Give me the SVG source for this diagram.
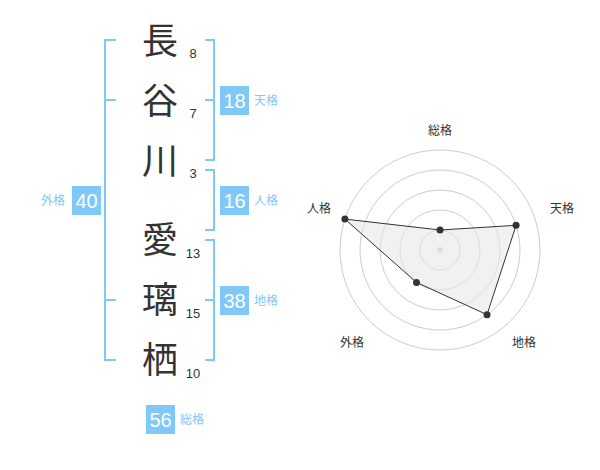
<svg xmlns="http://www.w3.org/2000/svg" width="600" height="470" viewBox="0 0 600 470">
<style>
.k{font-family:"Noto Sans CJK JP","Noto Sans CJK SC",sans-serif;font-size:36px;fill:#333;text-anchor:middle}
.s{font-family:"Liberation Sans","Noto Sans CJK JP",sans-serif;font-size:13px;fill:#333;text-anchor:middle}
.br{fill:none;stroke:#80c8f8;stroke-width:2}
.box{fill:#80c8f8}
.bn{font-family:"Liberation Sans",sans-serif;font-size:20px;fill:#fff;text-anchor:middle}
.lb{font-family:"Noto Sans CJK JP",sans-serif;font-size:12px;fill:#80c8f8}
.ring{fill:none;stroke:#cccccc;stroke-width:1}
.rl{font-family:"Noto Sans CJK JP",sans-serif;font-size:12px;fill:#333;text-anchor:middle}
.dot{fill:#333}
</style>
<rect width="600" height="470" fill="#fff"/>
<g id="chars">
<text class="k" x="160" y="54">長</text>
<text class="k" x="160" y="114">谷</text>
<text class="k" x="160" y="174">川</text>
<text class="k" x="160" y="253">愛</text>
<text class="k" x="160" y="313">璃</text>
<text class="k" x="160" y="373">栖</text>
</g>
<g id="strokes">
<text class="s" x="193" y="58">8</text>
<text class="s" x="193" y="118">7</text>
<text class="s" x="193" y="178">3</text>
<text class="s" x="193" y="258">13</text>
<text class="s" x="193" y="318">15</text>
<text class="s" x="193" y="378">10</text>
</g>
<g id="connectors">
<path class="br" d="M116,40 H105 V360 H116 M105,100 H116 M105,300 H116"/>
<path class="br" d="M205,40 H214 V160 H205 M205,100 H214"/>
<path class="br" d="M205,170 H214 V230 H205"/>
<path class="br" d="M205,240 H214 V360 H205 M205,300 H214"/>
</g>
<g id="gaikaku">
<rect class="box" x="72" y="186" width="29" height="29"/>
<text class="bn" x="86.5" y="208">40</text>
<text class="lb" x="41" y="205">外格</text>
</g>
<g id="tenkaku">
<rect class="box" x="220" y="86" width="29" height="29"/>
<text class="bn" x="234.5" y="108">18</text>
<text class="lb" x="254" y="105">天格</text>
</g>
<g id="jinkaku">
<rect class="box" x="220" y="186" width="29" height="29"/>
<text class="bn" x="234.5" y="208">16</text>
<text class="lb" x="254" y="205">人格</text>
</g>
<g id="chikaku">
<rect class="box" x="220" y="286" width="29" height="29"/>
<text class="bn" x="234.5" y="308">38</text>
<text class="lb" x="254" y="305">地格</text>
</g>
<g id="soukaku">
<rect class="box" x="146" y="405" width="29" height="29"/>
<text class="bn" x="160.5" y="427">56</text>
<text class="lb" x="180" y="424">総格</text>
</g>
<g id="radar">
<circle class="ring" cx="440" cy="250" r="20"/>
<circle class="ring" cx="440" cy="250" r="40"/>
<circle class="ring" cx="440" cy="250" r="60"/>
<circle class="ring" cx="440" cy="250" r="80"/>
<circle class="ring" cx="440" cy="250" r="100"/>
<circle cx="440" cy="250" r="3" fill="#cccccc"/>
<polygon points="440,230 516.1,225.3 487,314.7 416.5,282.4 344.9,219.1" fill="#e8e8e8" fill-opacity="0.6" stroke="#333" stroke-width="1"/>
<circle class="dot" cx="440" cy="230" r="3.5"/>
<circle class="dot" cx="516.1" cy="225.3" r="3.5"/>
<circle class="dot" cx="487" cy="314.7" r="3.5"/>
<circle class="dot" cx="416.5" cy="282.4" r="3.5"/>
<circle class="dot" cx="344.9" cy="219.1" r="3.5"/>
<text class="rl" x="440" y="135">総格</text>
<text class="rl" x="562" y="213">天格</text>
<text class="rl" x="524" y="347">地格</text>
<text class="rl" x="352" y="347">外格</text>
<text class="rl" x="319" y="213">人格</text>
</g>
</svg>
